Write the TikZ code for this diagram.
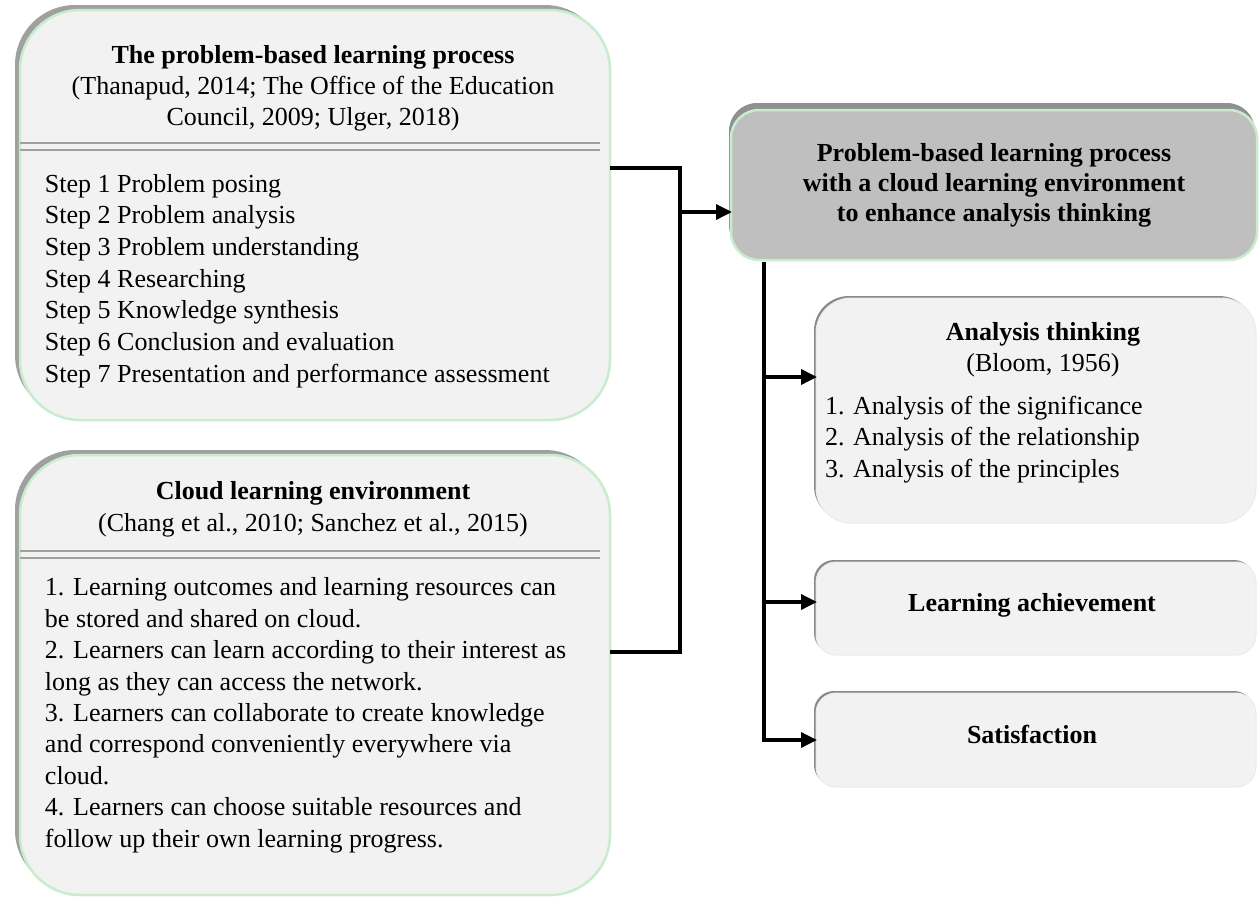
\documentclass[tikz,border=0pt]{standalone}
\usepackage{fontspec}
\setmainfont{LiberationSerif}[Extension=.ttf, UprightFont=*-Regular, BoldFont=*-Bold, ItalicFont=*-Italic, BoldItalicFont=*-BoldItalic]
\usetikzlibrary{arrows.meta}
\definecolor{boxfill}{HTML}{F2F2F2}
\definecolor{mainfill}{HTML}{BFBFBF}
\definecolor{boxgreen}{HTML}{C8ECCD}
\definecolor{shadowgray}{HTML}{A0A0A0}
\definecolor{sepgray}{HTML}{A0A0A0}
\begin{document}
\begin{tikzpicture}[x=1pt,y=-1pt,
  every node/.style={font=\fontsize{26}{31.5}\selectfont, inner sep=0pt, outer sep=0pt},
  bigbox/.style={draw=boxgreen, line width=2.5pt, fill=boxfill, rounded corners=60pt,
    anchor=north west, rectangle,
    preaction={draw=none, fill=shadowgray, transform canvas={shift={(-5pt,5pt)}}}},
  mainbox/.style={draw=boxgreen, line width=2.5pt, fill=mainfill, rounded corners=28pt,
    anchor=north west, rectangle,
    preaction={draw=none, fill=shadowgray!90!black, transform canvas={shift={(-2pt,7pt)}}}},
  smallbox/.style={draw=black!8, line width=1pt, fill=boxfill, anchor=north west, rectangle,
    preaction={draw=none, fill=shadowgray!85!black, transform canvas={shift={(-2pt,2pt)}}}},
  sepline/.style={draw=sepgray, line width=1.3pt},
  conn/.style={draw=black, line width=3.5pt},
  arr/.style={conn, -{Triangle[length=16pt,width=15pt]}, shorten >=-1pt},
]
\useasboundingbox (0,0) rectangle (1259,898);

% ---------- boxes ----------
\node[bigbox, minimum width=590pt, minimum height=410pt] (pbl) at (20,10) {};
\node[bigbox, minimum width=590pt, minimum height=440pt] (cloud) at (20,455) {};
\node[mainbox, minimum width=526pt, minimum height=150pt] (main) at (731,110) {};
\node[smallbox, rounded corners=35pt, minimum width=440pt, minimum height=225pt] (ana) at (816,298) {};
\node[smallbox, rounded corners=20pt, minimum width=440pt, minimum height=93pt] (ach) at (816,562) {};
\node[smallbox, rounded corners=20pt, minimum width=440pt, minimum height=94pt] (sat) at (816,693) {};

% ---------- separators ----------
\draw[sepline] (pbl.west |- 0,143) -- (600,143);
\draw[sepline] (pbl.west |- 0,150) -- (600,150);
\draw[sepline] (cloud.west |- 0,551) -- (600,551);
\draw[sepline] (cloud.west |- 0,558) -- (600,558);

% ---------- texts ----------
\node[anchor=north, align=center, font=\fontsize{26}{31}\selectfont] (pblhead) at (313,42)
  {\strut\textbf{The problem-based learning process}\\(Thanapud, 2014; The Office of the Education\\Council, 2009; Ulger, 2018)};
\node[anchor=north west, align=left, font=\fontsize{26}{31.7}\selectfont] (steps) at (45,170)
  {\strut Step 1 Problem posing\\Step 2 Problem analysis\\Step 3 Problem understanding\\Step 4 Researching\\Step 5 Knowledge synthesis\\Step 6 Conclusion and evaluation\\Step 7 Presentation and performance assessment};

\node[anchor=north, align=center, font=\fontsize{26}{32}\selectfont] (cloudhead) at (313,477)
  {\strut\textbf{Cloud learning environment}\\(Chang et al., 2010; Sanchez et al., 2015)};
\node[anchor=north west, align=left, font=\fontsize{26}{31.4}\selectfont] (clouditems) at (45,574)
  {\strut 1. Learning outcomes and learning resources can\\be stored and shared on cloud.\\2. Learners can learn according to their interest as\\long as they can access the network.\\3. Learners can collaborate to create knowledge\\and correspond conveniently everywhere via\\cloud.\\4. Learners can choose suitable resources and\\follow up their own learning progress.};

\node[anchor=north, align=center, font=\bfseries\fontsize{26}{30}\selectfont] (maintext) at (994,140)
  {\strut Problem-based learning process\\with a cloud learning environment\\to enhance analysis thinking};

\node[anchor=north, align=center, font=\fontsize{26}{31}\selectfont] (anahead) at (1043,319)
  {\strut\textbf{Analysis thinking}\\(Bloom, 1956)};
\node[anchor=north west, align=left, font=\fontsize{26}{31.5}\selectfont] (anaitems) at (825,392)
  {\strut 1. Analysis of the significance\\2. Analysis of the relationship\\3. Analysis of the principles};

\node[anchor=base, font=\bfseries\fontsize{26}{31}\selectfont] (achtext) at (1032,611) {Learning achievement};
\node[anchor=base, font=\bfseries\fontsize{26}{31}\selectfont] (sattext) at (1032,743) {Satisfaction};

% ---------- connectors ----------
\coordinate (j1) at (680,168);
\coordinate (j2) at (680,652);
\coordinate (j3) at (680,212);
\draw[conn] (pbl.east |- j1) -- (j1) -- (j2) -- (cloud.east |- j2);
\draw[arr] (j3) -- (j3 -| main.west);

\coordinate (v0) at (764,262);
\coordinate (a1) at (764,377);
\coordinate (a2) at (764,602);
\coordinate (a3) at (764,740);
\draw[conn] (v0) -- (a3);
\draw[arr] (a1) -- (a1 -| ana.west);
\draw[arr] (a2) -- (a2 -| ach.west);
\draw[arr] ([xshift=-1.75pt]a3) -- (a3 -| sat.west);
\end{tikzpicture}
\end{document}
